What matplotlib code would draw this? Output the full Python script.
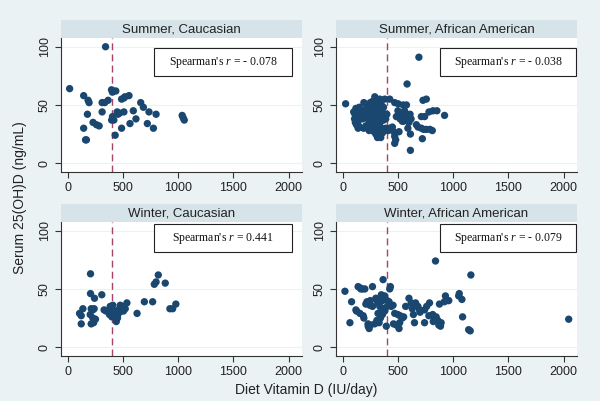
import matplotlib
matplotlib.use("Agg")
import matplotlib.pyplot as plt
from matplotlib.patches import Rectangle

plt.rcParams['font.family'] = ['Liberation Sans', 'DejaVu Sans']
plt.rcParams['mathtext.fontset'] = 'custom'
plt.rcParams['mathtext.rm'] = 'Liberation Serif'
plt.rcParams['mathtext.it'] = 'Liberation Serif:italic'

# ---------------- data ----------------
sc_x = [18, 145, 185, 194, 179, 145, 170, 162, 230, 261, 285, 312, 336, 366, 312,
        343, 397, 405, 412, 436, 398, 406, 418, 430, 448, 455, 470, 488, 510, 518,
        555, 488, 509, 564, 594, 618, 661, 685, 721, 736, 776, 800, 1036, 1045, 1055]
sc_y = [64, 58, 54, 52, 42, 30, 20, 20, 35, 33, 32, 52, 52, 54, 44,
        100, 63, 61, 62, 62, 37, 40, 37, 24, 44, 42, 43, 55, 56, 57,
        58, 30, 44, 34, 45, 38, 52, 48, 34, 44, 30, 42, 41, 39, 37]

sa_x = [690, 583, 27, 192, 291, 306, 336, 381, 426,
        471, 502, 547, 577, 486, 520, 550, 580, 619, 727, 757, 781, 817, 853, 922,
        712, 742, 667, 682, 712, 733, 757, 811, 790, 721, 613, 613, 450, 462, 471,
        480, 471, 510, 411, 426, 560, 530, 500, 600, 590, 540, 610,
        100, 111, 120, 130, 140, 150, 160, 171, 115, 125, 135, 145, 108,
        200, 210, 220, 230, 240, 250, 260, 270, 280, 290, 300, 310, 320, 330, 340,
        350, 360, 370, 380, 390,
        210, 225, 240, 255, 270, 285, 300, 315, 330, 345, 360, 375, 390, 300, 320, 350,
        180, 190, 250, 270, 230, 280, 320, 350, 370, 140, 150, 330, 310, 400]
sa_y = [91, 68, 51, 52, 57, 55, 55, 55, 55,
        52, 51, 50, 50, 40, 38, 36, 40, 38, 54, 55, 44, 45, 45, 41,
        40, 40, 33, 31, 30, 29, 29, 28, 29, 21, 25, 11, 31, 27, 23,
        20, 17, 27, 28, 30, 45, 42, 45, 35, 30, 36, 42,
        44, 42, 47, 40, 45, 42, 38, 44, 35, 33, 36, 32, 38,
        46, 40, 43, 38, 35, 42, 47, 44, 40, 36, 48, 45, 42, 38, 35,
        40, 44, 37, 41, 38,
        32, 30, 28, 33, 30, 27, 25, 22, 24, 22, 26, 28, 30, 32, 30, 30,
        38, 30, 52, 53, 48, 50, 52, 50, 48, 30, 48, 45, 35, 42]

wc_x = [207, 207, 243, 309, 820, 784, 800, 883, 694, 769, 628, 925, 950, 979,
        138, 123, 108, 123, 213, 228, 204, 228, 213, 235, 252, 240,
        330, 348, 385, 409, 379, 400, 430, 451, 451, 460, 476, 491, 521, 536,
        420, 440, 470, 505, 395]
wc_y = [63, 46, 42, 45, 62, 54, 56, 55, 39, 39, 29, 33, 33, 37,
        33, 27, 29, 20, 33, 32, 28, 25, 20, 21, 24, 33,
        32, 31, 35, 36, 28, 26, 29, 25, 27, 32, 36, 35, 33, 38,
        31, 22, 30, 31, 30]

wa_x = [840, 1160, 2045, 1154, 1085, 1055, 1079, 930, 960, 876, 846, 831, 861, 891,
        885, 815, 786, 660, 681, 696, 741, 650, 741, 600, 570, 552, 516, 510, 486,
        456, 471, 432, 426, 366, 420, 402, 381, 21, 81, 66, 126, 156, 156, 180, 201,
        270, 186, 192, 231, 246, 270, 231, 240, 252, 330, 321, 336, 351, 342, 330,
        390, 381, 140, 165, 220, 240, 210, 300, 310, 350, 360, 440, 460, 500, 520,
        540, 620, 630, 640, 700, 760, 780, 820, 870, 920, 950, 1050, 1140, 290, 310,
        320, 360, 395, 230, 250, 120]
wa_y = [74, 62, 24, 14, 26, 46, 41, 44, 40, 37, 26, 24, 23, 21,
        18, 28, 38, 38, 35, 32, 32, 21, 21, 42, 35, 26, 21, 16, 19,
        36, 29, 52, 50, 58, 39, 40, 44, 48, 39, 21, 31, 29, 51, 50, 50,
        52, 27, 25, 38, 36, 35, 18, 16, 19, 41, 38, 35, 31, 25, 21,
        34, 31, 52, 50, 39, 39, 37, 42, 40, 45, 40, 35, 20, 28, 27,
        25, 38, 33, 28, 30, 35, 27, 22, 19, 39, 40, 44, 15, 20, 23,
        29, 28, 18, 20, 40, 32]

titles = ["Summer, Caucasian", "Summer, African American",
          "Winter, Caucasian", "Winter, African American"]
rho_text = ["- 0.078", "- 0.038", "0.441", "- 0.079"]
xs = [sc_x, sa_x, wc_x, wa_x]
ys = [sc_y, sa_y, wc_y, wa_y]
x_ticks = [0, 500, 1000, 1500, 2000]
y_ticks = [0, 50, 100]
cutoff = 400

# ---------------- style ----------------
BG = '#EAF2F3'
STRIP = '#D6E3E8'
NAVY = '#1A476F'
LINE = '#A8436A'

W, H = 600, 401
fig = plt.figure(figsize=(W / 100, H / 100), dpi=100, facecolor=BG)

lefts = [61, 336]
tops = [38, 222]
aw, ah = 241, 134
strip_h = 18
boxes = [(0.386, 0.716, 0.572, 0.209), (0.43, 0.716, 0.566, 0.209),
         (0.386, 0.774, 0.572, 0.209), (0.43, 0.774, 0.566, 0.209)]

for i in range(4):
    r, c = divmod(i, 2)
    l, t = lefts[c], tops[r]
    ax = fig.add_axes([l / W, 1 - (t + ah) / H, aw / W, ah / H])
    ax.set_facecolor('white')
    ax.set_xlim(-60, 2120)
    ax.set_ylim(-7.6, 107.5)
    for yv in y_ticks:
        ax.axhline(yv, color=BG, lw=0.8, zorder=0)
    ax.axvline(cutoff, color=LINE, lw=1.0, dashes=(5, 3), zorder=1)
    ax.scatter(xs[i], ys[i], s=28, color=NAVY, edgecolors='none', zorder=3)
    ax.set_xticks(x_ticks)
    ax.set_yticks(y_ticks)
    ax.tick_params(axis='both', direction='out', length=4, width=0.8,
                   colors='#333333', labelcolor='#222222', labelsize=9)
    for lab in ax.get_yticklabels():
        lab.set_rotation(90)
        lab.set_va('center')
    for s in ['top', 'right']:
        ax.spines[s].set_visible(False)
    for s in ['left', 'bottom']:
        ax.spines[s].set_color('#333333')
        ax.spines[s].set_linewidth(0.8)
    bx, by, bw, bh = boxes[i]
    ax.add_patch(Rectangle((bx, by), bw, bh, transform=ax.transAxes,
                           facecolor='white', edgecolor='#222222', lw=0.8,
                           zorder=4, clip_on=False))
    ax.text(bx + bw / 2, by + bh / 2,
            "Spearman's $\\mathit{r}$ = " + rho_text[i],
            transform=ax.transAxes, ha='center', va='center', fontsize=8.5,
            family=['Liberation Serif', 'DejaVu Serif'],
            color='#111111', zorder=5)
    # strip
    sax = fig.add_axes([l / W, 1 - t / H, aw / W, strip_h / H])
    sax.set_facecolor(STRIP)
    sax.set_xticks([])
    sax.set_yticks([])
    for s in sax.spines.values():
        s.set_visible(False)
    sax.text(0.5, 0.45, titles[i], ha='center', va='center', fontsize=9.5,
             color='#222222', transform=sax.transAxes)

fig.text(20 / W, 1 - 198 / H, "Serum 25(OH)D (ng/mL)", rotation=90,
         ha='center', va='center', fontsize=10, color='#222222')
fig.text(306 / W, 1 - 390 / H, "Diet Vitamin D (IU/day)",
         ha='center', va='center', fontsize=10, color='#222222')

fig.savefig("out.png", dpi=100, facecolor=BG)
